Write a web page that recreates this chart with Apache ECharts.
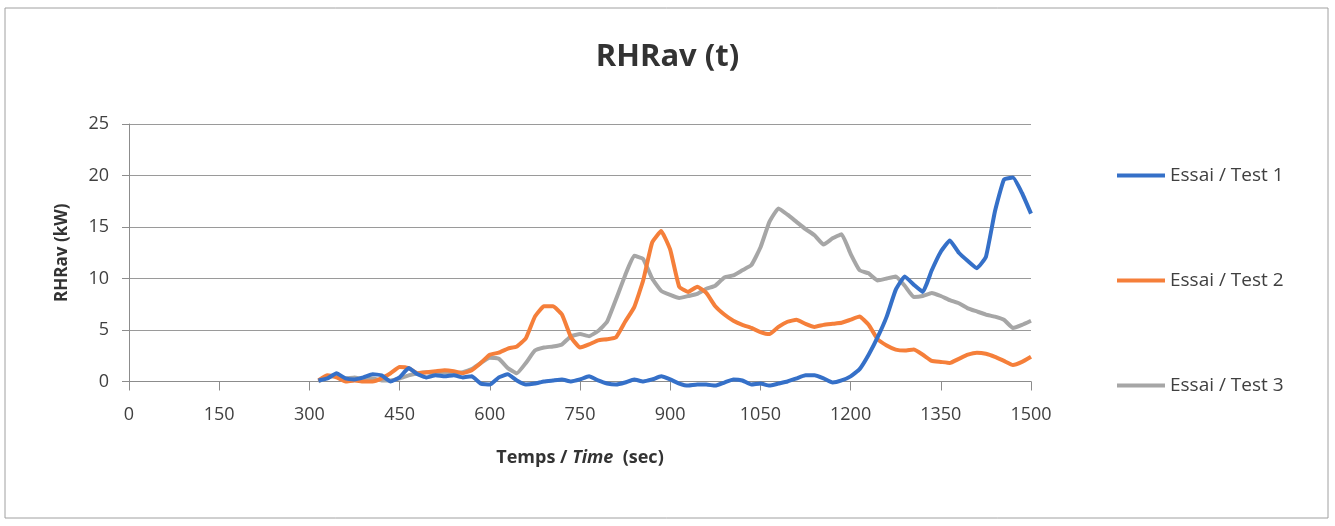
<!DOCTYPE html>
<html>
<head>
<meta charset="utf-8">
<script src="https://cdn.jsdelivr.net/npm/echarts@6/dist/echarts.min.js"></script>
<style>
    html, body { margin: 0; padding: 0; background: #fff; }
    #rhrav_chart { width: 1335px; height: 526px; }
</style>
</head>
<body>
<div id="rhrav_chart"></div>
<script>
// time in seconds, one reading every 15 s
const times = [
    315, 330, 345, 360, 375, 390, 405, 420, 435, 450, 465, 480, 495, 510, 525, 540,
    555, 570, 585, 600, 615, 630, 645, 660, 675, 690, 705, 720, 735, 750, 765, 780,
    795, 810, 825, 840, 855, 870, 885, 900, 915, 930, 945, 960, 975, 990, 1005, 1020,
    1035, 1050, 1065, 1080, 1095, 1110, 1125, 1140, 1155, 1170, 1185, 1200, 1215, 1230, 1245, 1260,
    1275, 1290, 1305, 1320, 1335, 1350, 1365, 1380, 1395, 1410, 1425, 1440, 1455, 1470, 1485, 1500
];

// RHRav (kW)
const test1 = [
    0.1, 0.3, 0.8, 0.3, 0.2, 0.4, 0.7, 0.6, 0.0, 0.4, 1.3, 0.7, 0.4, 0.6, 0.5, 0.6,
    0.4, 0.5, -0.2, -0.3, 0.4, 0.7, 0.1, -0.3, -0.2, 0.0, 0.1, 0.2, 0.0, 0.2, 0.5, 0.1,
    -0.2, -0.3, -0.1, 0.2, 0.0, 0.2, 0.5, 0.2, -0.2, -0.4, -0.3, -0.3, -0.4, -0.1, 0.2, 0.1,
    -0.3, -0.2, -0.4, -0.2, 0.0, 0.3, 0.6, 0.6, 0.3, -0.1, 0.1, 0.5, 1.2, 2.6, 4.3, 6.3,
    8.9, 10.2, 9.4, 8.7, 10.8, 12.6, 13.7, 12.5, 11.7, 11.0, 12.1, 16.5, 19.6, 19.8, 18.3, 16.3
];
const test2 = [
    0.1, 0.6, 0.4, 0.0, 0.1, 0.0, 0.0, 0.3, 0.8, 1.4, 1.3, 0.8, 0.9, 1.0, 1.1, 1.0,
    0.8, 1.1, 1.8, 2.6, 2.8, 3.2, 3.4, 4.2, 6.3, 7.3, 7.3, 6.5, 4.3, 3.3, 3.6, 4.0,
    4.1, 4.3, 5.8, 7.2, 9.8, 13.5, 14.6, 12.8, 9.2, 8.7, 9.2, 8.6, 7.3, 6.5, 5.9, 5.5,
    5.2, 4.8, 4.6, 5.3, 5.8, 6.0, 5.6, 5.3, 5.5, 5.6, 5.7, 6.0, 6.3, 5.5, 4.1, 3.5,
    3.1, 3.0, 3.1, 2.6, 2.0, 1.9, 1.8, 2.2, 2.6, 2.8, 2.7, 2.4, 2.0, 1.6, 1.9, 2.4
];
const test3 = [
    0.0, 0.4, 0.5, 0.3, 0.4, 0.2, 0.3, 0.1, 0.1, 0.3, 0.6, 0.8, 0.9, 0.7, 0.9, 0.8,
    0.9, 1.2, 1.8, 2.3, 2.2, 1.3, 0.8, 1.8, 3.0, 3.3, 3.4, 3.6, 4.4, 4.6, 4.4, 4.9,
    5.8, 8.0, 10.3, 12.2, 11.9, 10.0, 8.8, 8.4, 8.1, 8.3, 8.5, 9.0, 9.3, 10.1, 10.3, 10.8,
    11.3, 13.0, 15.5, 16.8, 16.2, 15.5, 14.8, 14.2, 13.3, 13.9, 14.3, 12.4, 10.8, 10.5, 9.8, 10.0,
    10.2, 9.3, 8.2, 8.3, 8.6, 8.3, 7.9, 7.6, 7.1, 6.8, 6.5, 6.3, 6.0, 5.2, 5.5, 5.9
];

const seriesNames = ["Essai / Test 1", "Essai / Test 2", "Essai / Test 3"];
const seriesColors = ["#3570c8", "#f57f3a", "#a6a6a6"];
const xTicks = { min: 0, max: 1500, interval: 150 };
const yTicks = { min: 0, max: 25, interval: 5 };

const font = "'Open Sans', 'DejaVu Sans', sans-serif";
const textColor = "#404040";

function pairs(values) {
    return times.map(function (t, i) {
        return [t, values[i]];
    });
}

const chart = echarts.init(document.getElementById("rhrav_chart"));

chart.setOption({
    backgroundColor: "#fff",
    animation: false,
    title: {
        text: "RHRav (t)",
        left: "center",
        top: 37,
        textStyle: {
            fontFamily: font,
            fontSize: 31,
            fontWeight: "bold",
            color: "#333"
        }
    },
    graphic: [
        {
            type: "rect",
            shape: { x: 5, y: 8, width: 1323, height: 510 },
            style: { fill: "none", stroke: "#a0a0a0", lineWidth: 1 },
            silent: true
        }
    ],
    legend: {
        orient: "vertical",
        left: 1117,
        top: 166,
        padding: 0,
        icon: "rect",
        itemWidth: 48,
        itemHeight: 4,
        itemGap: 86,
        textStyle: {
            fontFamily: font,
            fontSize: 19,
            lineHeight: 18,
            color: textColor
        },
        data: seriesNames
    },
    grid: {
        left: 129,
        right: 304,
        top: 124,
        bottom: 144.5
    },
    xAxis: {
        type: "value",
        min: xTicks.min,
        max: xTicks.max,
        interval: xTicks.interval,
        name: "{b|Temps / }{i|Time}{b|  (sec)}",
        nameLocation: "middle",
        nameGap: 67,
        nameTextStyle: {
            rich: {
                b: { fontFamily: font, fontSize: 18, fontWeight: "bold", color: "#333" },
                i: { fontFamily: font, fontSize: 18, fontWeight: "bold", fontStyle: "italic", color: "#333" }
            }
        },
        axisLine: { lineStyle: { color: "#8c8c8c", width: 1 } },
        axisTick: { show: true, length: 9, lineStyle: { color: "#8c8c8c" } },
        axisLabel: {
            fontFamily: font,
            fontSize: 18,
            color: textColor,
            margin: 24,
            formatter: function (v) { return String(v); }
        },
        splitLine: { show: false }
    },
    yAxis: {
        type: "value",
        min: yTicks.min,
        max: yTicks.max,
        interval: yTicks.interval,
        name: "RHRav (kW)",
        nameLocation: "middle",
        nameGap: 58,
        nameTextStyle: {
            fontFamily: font,
            fontSize: 17,
            fontWeight: "bold",
            color: "#333"
        },
        axisLine: { show: true, lineStyle: { color: "#8c8c8c", width: 1 } },
        axisTick: { show: true, length: 7, lineStyle: { color: "#8c8c8c" } },
        axisLabel: {
            fontFamily: font,
            fontSize: 18,
            color: textColor,
            margin: 20
        },
        splitLine: { show: true, lineStyle: { color: "#9a9a9a", width: 1 } }
    },
    series: [test1, test2, test3].map(function (values, i) {
        return {
            name: seriesNames[i],
            type: "line",
            data: pairs(values),
            symbol: "none",
            smooth: 0.12,
            clip: false,
            z: 3 - i,
            itemStyle: { color: seriesColors[i] },
            lineStyle: { color: seriesColors[i], width: 4 }
        };
    })
});
</script>
</body>
</html>
